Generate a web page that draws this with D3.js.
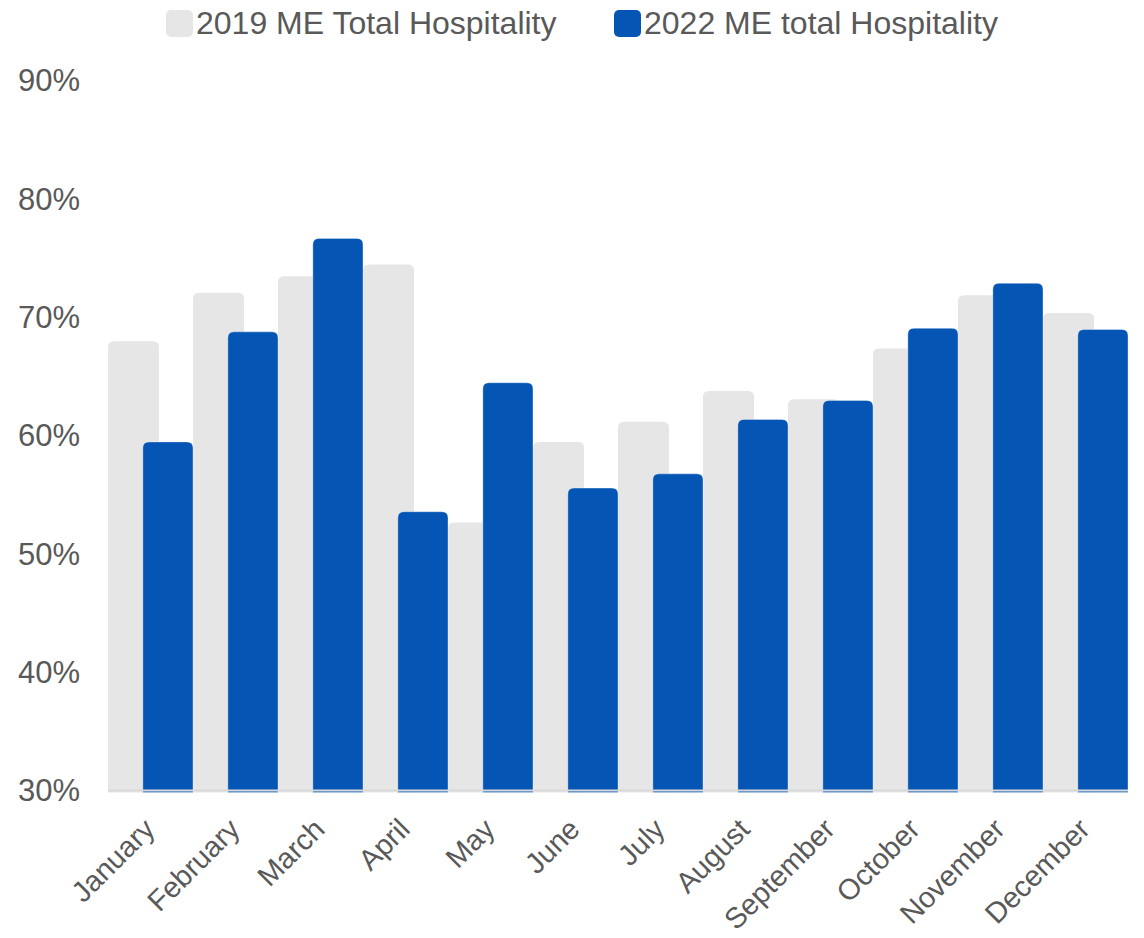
<!DOCTYPE html>
<html>
<head>
<meta charset="utf-8">
<script src="https://cdn.jsdelivr.net/npm/d3@7"></script>
<style>
  body { margin: 0; background: #fff; }
  text { font-family: "Liberation Sans", Arial, sans-serif; fill: #595959; }
</style>
</head>
<body>
<div id="chart"></div>
<script>
// chart data
var months = ["January", "February", "March", "April", "May", "June",
              "July", "August", "September", "October", "November", "December"];
var series_names = ["2019 ME Total Hospitality", "2022 ME total Hospitality"];
var values_2019 = [68.0, 72.1, 73.5, 74.5, 52.7, 59.5, 61.2, 63.8, 63.1, 67.4, 71.9, 70.4];
var values_2022 = [59.5, 68.8, 76.7, 53.6, 64.5, 55.6, 56.8, 61.4, 63.0, 69.1, 72.9, 69.0];
var y_ticks = [30, 40, 50, 60, 70, 80, 90];

var colors = ["#e6e6e6", "#0455b4"];

var width = 1144, height = 938;
var margin = { left: 108, right: 16, top: 81, bottom: 147 };

var svg = d3.select("#chart").append("svg")
            .attr("width", width)
            .attr("height", height);

var xScale = d3.scaleBand()
               .domain(months)
               .range([margin.left, width - margin.right])
               .padding(0);

var yScale = d3.scaleLinear()
               .domain([30, 90])
               .range([height - margin.bottom, margin.top]);

var bw = xScale.bandwidth();
var base = yScale(30);

// top-rounded bar path
function barPath(x, w, y, r) {
  return "M" + x + "," + (base + 1.5) +
         "V" + (y + r) +
         "Q" + x + "," + y + " " + (x + r) + "," + y +
         "H" + (x + w - r) +
         "Q" + (x + w) + "," + y + " " + (x + w) + "," + (y + r) +
         "V" + (base + 1.5) + "Z";
}

// 2019 bars, left part of each band
svg.append("g").selectAll("path")
   .data(values_2019)
   .enter().append("path")
   .attr("d", function(d, i) {
     return barPath(xScale(months[i]), bw * 0.6, yScale(d), 6);
   })
   .attr("fill", colors[0]);

// 2022 bars overlap the 2019 ones
svg.append("g").selectAll("path")
   .data(values_2022)
   .enter().append("path")
   .attr("d", function(d, i) {
     return barPath(xScale(months[i]) + bw * 0.41, bw * 0.59, yScale(d), 6);
   })
   .attr("fill", colors[1])
   .attr("stroke", "#ffffff")
   .attr("stroke-opacity", 0.35)
   .attr("stroke-width", 1);

// baseline
svg.append("line")
   .attr("x1", margin.left).attr("x2", width - margin.right)
   .attr("y1", base - 0.5).attr("y2", base - 0.5)
   .attr("stroke", "#d9d9d9")
   .attr("stroke-width", 2);

// y axis labels
var yAxis = svg.append("g")
   .attr("transform", "translate(80,0)")
   .call(d3.axisLeft(yScale).tickValues(y_ticks)
           .tickFormat(function(d) { return d + "%"; })
           .tickSize(0).tickPadding(0));
yAxis.select(".domain").remove();
yAxis.selectAll("text")
     .style("font-size", "31px")
     .attr("fill", "#595959");

// x axis labels, rotated
var xAxis = svg.append("g")
   .attr("transform", "translate(0," + base + ")")
   .call(d3.axisBottom(xScale).tickSize(0).tickPadding(0));
xAxis.select(".domain").remove();
xAxis.selectAll("text")
     .style("font-size", "29px")
     .attr("fill", "#595959")
     .attr("text-anchor", "end")
     .attr("dy", null)
     .attr("transform", "translate(6,40) rotate(-45)");

// legend
var legendX = [166, 614];
var legend = svg.append("g").selectAll("g")
   .data(series_names)
   .enter().append("g")
   .attr("transform", function(d, i) { return "translate(" + legendX[i] + ",10)"; });

legend.append("rect")
      .attr("width", 27).attr("height", 27)
      .attr("rx", 5)
      .attr("fill", function(d, i) { return colors[i]; });

legend.append("text")
      .attr("x", 30).attr("y", 24)
      .style("font-size", "32px")
      .text(function(d) { return d; });
</script>
</body>
</html>
